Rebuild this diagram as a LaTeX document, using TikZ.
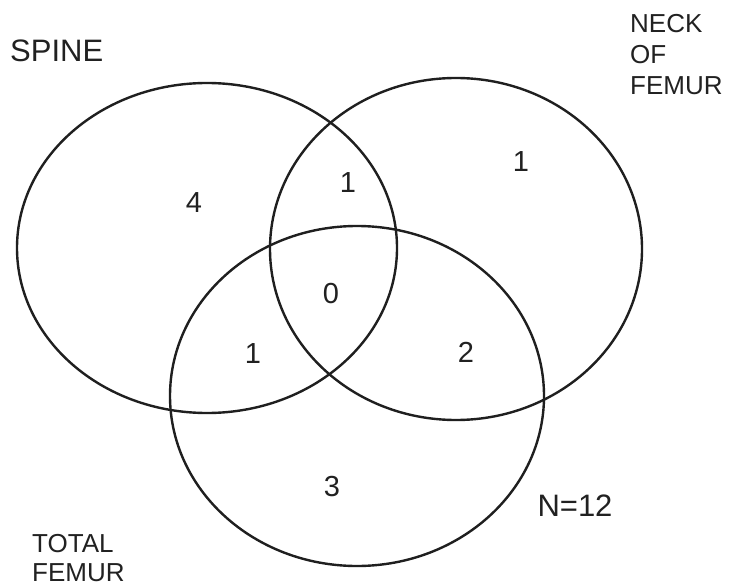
\documentclass[tikz,border=0pt]{standalone}
\usepackage{fontspec}
\setmainfont{Liberation Sans}
\begin{document}
\begin{tikzpicture}[x=1pt,y=-1pt,
  ring/.style={draw=black!88,line width=2.4pt},
  lbl/.style={inner sep=0pt,anchor=base west,text=black!87,font=\fontsize{26}{31}\selectfont},
  num/.style={inner sep=0pt,text=black!87,font=\fontsize{29}{34}\selectfont}]
\useasboundingbox[fill=white] (0,0) rectangle (730,585);
% circles
\draw[ring] (207,248) ellipse [x radius=190,y radius=165];
\draw[ring] (456,249) ellipse [x radius=186,y radius=171];
\draw[ring] (357,396) ellipse [x radius=187,y radius=170];
% labels
\node[lbl,font=\fontsize{31}{36}\selectfont] (spine) at (10,62) {SPINE};
\node[lbl] (neck1) at (630,33) {NECK};
\node[lbl] (neck2) at (630,64) {OF};
\node[lbl] (neck3) at (630,95) {FEMUR};
\node[lbl] (tot1) at (32,552) {TOTAL};
\node[lbl] (tot2) at (32,581) {FEMUR};
% counts
\node[num] (a) at (194,203) {4};
\node[num] (ab) at (348,183) {1};
\node[num] (b) at (521,162) {1};
\node[num] (abc) at (331,294) {0};
\node[num] (ac) at (253,354) {1};
\node[num] (bc) at (466,352) {2};
\node[num] (c) at (332,487) {3};
\node[num,font=\fontsize{31}{36}\selectfont] (n) at (575,506) {N=12};
\end{tikzpicture}
\end{document}
